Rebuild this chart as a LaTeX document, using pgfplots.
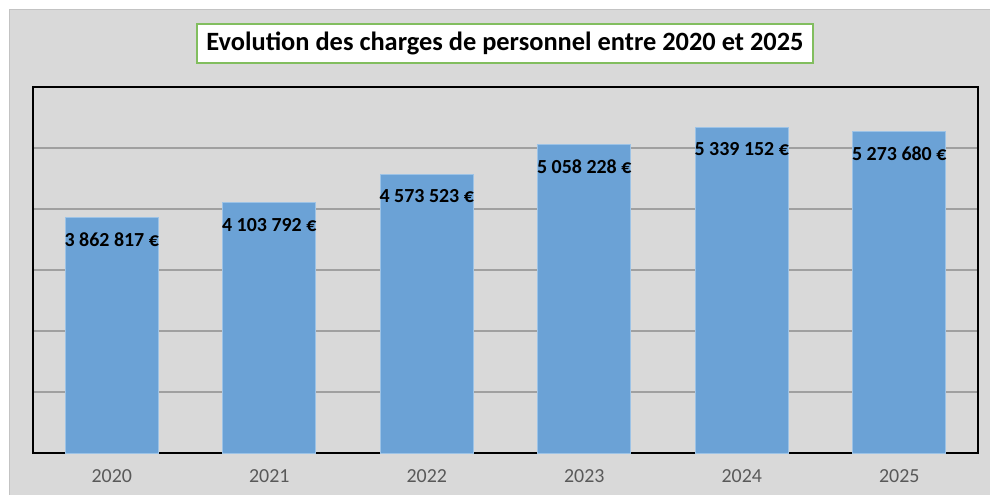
\documentclass[border=0pt]{standalone}
\usepackage{pgfplots}
\pgfplotsset{compat=1.18}
\usepackage{fontspec}
\setmainfont{Carlito}
\definecolor{bgray}{RGB}{217,217,217}
\definecolor{framegray}{RGB}{195,195,195}
\definecolor{barblue}{RGB}{107,162,214}
\definecolor{baredge}{RGB}{157,195,230}
\definecolor{gridgray}{RGB}{160,160,160}
\definecolor{ticktext}{RGB}{89,89,89}
\definecolor{titlegreen}{RGB}{130,190,95}
\begin{document}
\begin{tikzpicture}
\fill[white] (0bp,0bp) rectangle (990bp,495bp);
\filldraw[fill=bgray, draw=framegray, line width=1bp] (9bp,-2bp) rectangle (992bp,485bp);
\begin{axis}[
  at={(33bp,42bp)}, anchor=south west,
  scale only axis, width=945bp, height=366bp,
  xmin=-0.5, xmax=5.5, ymin=0, ymax=6000000,
  xtick={0,1,2,3,4,5},
  xticklabels={2020,2021,2022,2023,2024,2025},
  ytick={0,1000000,2000000,3000000,4000000,5000000,6000000},
  yticklabels={},
  scaled y ticks=false,
  ymajorgrids,
  grid style={gridgray, line width=1.2bp},
  major tick length=0pt,
  axis line style={black, line width=1.4bp},
  xticklabel style={font=\fontsize{20}{24}\selectfont, text=ticktext, inner sep=0pt, yshift=-16bp},
  ybar, bar width=0.59,
  point meta=explicit symbolic,
  nodes near coords,
  nodes near coords align={below},
  every node near coord/.append style={font=\fontsize{20}{24}\bfseries\selectfont, text=black, anchor=north, inner sep=0pt, yshift=-15bp},
  clip=false,
]
\addplot[fill=barblue, draw=baredge, line width=0.8bp] coordinates {
  (0,3862817) [3 862 817 €]
  (1,4103792) [4 103 792 €]
  (2,4573523) [4 573 523 €]
  (3,5058228) [5 058 228 €]
  (4,5339152) [5 339 152 €]
  (5,5273680) [5 273 680 €]
};
\end{axis}
\node[draw=titlegreen, line width=1.5bp, fill=white, minimum width=616bp, minimum height=39bp, inner sep=0pt, font=\fontsize{26.5}{30}\bfseries\selectfont] at (505bp,451.5bp) {Evolution des charges de personnel entre 2020 et 2025};
\pgfresetboundingbox
\path (0bp,0bp) rectangle (990bp,495bp);
\end{tikzpicture}
\end{document}
